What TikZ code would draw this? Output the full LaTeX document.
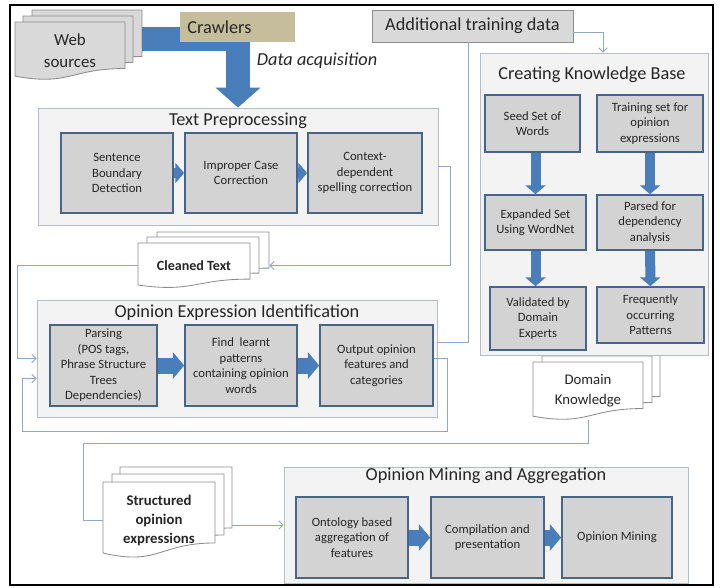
\documentclass[tikz,border=0pt]{standalone}
\usepackage{fontspec}
\setmainfont{Carlito}
\usetikzlibrary{arrows.meta}

\definecolor{arrowblue}{HTML}{4A7EBB}
\definecolor{boxline}{HTML}{46648C}
\definecolor{boxfill}{HTML}{D3D3D3}
\definecolor{panelline}{HTML}{B4BCC8}
\definecolor{panelfill}{HTML}{F3F3F3}
\definecolor{linkc}{HTML}{8EA8CA}
\definecolor{crawlfill}{HTML}{C6BE9A}
\definecolor{pagegray}{HTML}{D9D9D9}
\definecolor{pageline}{HTML}{8C8C8C}

% document sheet with wavy bottom: style, name, x, y, w, h, text
\newcommand\docpage[7]{%
  \filldraw[#1] (#3,#4) -- ({#3+#5},#4) -- ({#3+#5},{#4+0.802*#6})
    .. controls ({#3+0.5*#5},{#4+0.802*#6}) and ({#3+0.5*#5},{#4+1.107*#6}) .. (#3,{#4+0.934*#6}) -- cycle;
  \node[#1,draw=none,fill=none,inner sep=0pt,align=center,
    minimum width=#5*0.025cm,minimum height=#6*0.025cm] (#2) at ({#3+0.5*#5},{#4+0.5*#6}) {#7};}

\begin{document}
\begin{tikzpicture}[x=0.025cm,y=-0.025cm,>=Stealth,
  every node/.style={text=black!85},
  panel/.style={draw=panelline,fill=panelfill,line width=.6pt,inner sep=0pt},
  title/.style={font=\fontsize{13}{15}\selectfont},
  procbox/.style={draw=boxline,line width=1.2pt,fill=boxfill,align=center,inner sep=1pt,
    minimum height=2cm,font=\fontsize{9}{11}\selectfont},
  fat/.style={draw=arrowblue,line width=.4cm,-{Triangle[width=.65cm,length=.28cm]}},
  slim/.style={draw=arrowblue,line width=.25cm,-{Triangle[width=.5cm,length=.22cm]}},
  link/.style={draw=linkc,line width=.6pt,-{Straight Barb[length=3pt,width=6pt]}},
  wire/.style={draw=linkc,line width=.6pt},
  sheet/.style={draw=pageline,fill=white,line width=.6pt},
  websheet/.style={draw=pageline,fill=pagegray,line width=.6pt,font=\fontsize{12}{15.5}\selectfont}]
\useasboundingbox (0,0) rectangle (720,587);
\draw[line width=1.5pt] (10,5) rectangle (713,585);

% web sources
\docpage{websheet}{web-c}{32}{10}{110}{58}{}
\docpage{websheet}{web-b}{23}{16}{110}{58}{}
\docpage{websheet}{web}{15}{22}{110}{58}{Web\\sources}

% text preprocessing
\node[panel,minimum width=10cm,minimum height=2.925cm] (prep) at (238,166.5) {};
\node[title] (prep-t) at (238,121) {Text Preprocessing};
\node[procbox,minimum width=2.8cm] (sbd) at (117,173) {Sentence\\Boundary\\Detection};
\node[procbox,minimum width=2.8cm] (ipc) at (241,173) {Improper Case\\Correction};
\node[procbox,minimum width=2.85cm] (cds) at (365,173) {Context-\\dependent\\spelling correction};
\draw[slim] (sbd) -- (ipc);
\draw[slim] (ipc) -- (cds);

\draw[draw=arrowblue,line width=.6cm,-{Triangle[width=1.1cm,length=.5cm]}] (web-c.east) -| (prep.north);
\node[fill=crawlfill,minimum height=.75cm,text width=2.5cm,inner xsep=.19cm,align=left,title] (crawl) at (237.5,27) {Crawlers};
\node[anchor=west,font=\fontsize{13}{15}\selectfont\itshape] (acq) at (252,61) {Data acquisition};
\node[draw=pageline,fill=pagegray,line width=.6pt,minimum width=5.025cm,minimum height=.8cm,inner sep=0pt,title] (addl) at (472.5,26) {Additional training data};

% knowledge base
\docpage{sheet}{dk-c}{550}{350}{110}{58}{}
\docpage{sheet}{dk-b}{542}{356}{110}{58}{}
\docpage{sheet,font=\fontsize{10.5}{14}\selectfont}{dk}{533}{362}{110}{58}{Domain\\Knowledge}
\node[panel,minimum width=5.7cm,minimum height=7.55cm] (kb) at (594,204) {};
\node[title] (kb-t) at (592,75) {Creating Knowledge Base};
\node[procbox,minimum width=2.375cm,minimum height=1.425cm] (seed) at (532.5,123.5) {Seed Set of\\Words};
\node[procbox,minimum width=2.65cm,minimum height=1.425cm] (train) at (650,123.5) {Training set for\\opinion\\expressions};
\node[procbox,minimum width=2.525cm,minimum height=1.375cm] (exp) at (535.5,222.5) {Expanded Set\\Using WordNet};
\node[procbox,minimum width=2.65cm,minimum height=1.375cm] (parsed) at (650,222.5) {Parsed for\\dependency\\analysis};
\node[procbox,minimum width=2.4cm,minimum height=1.575cm] (valid) at (538,318.5) {Validated by\\Domain\\Experts};
\node[procbox,minimum width=2.675cm,minimum height=1.4cm] (freq) at (650.5,315) {Frequently\\occurring\\Patterns};
\draw[slim] (exp |- seed.south) -- (exp);
\draw[slim] (exp) -- (exp |- valid.north);
\draw[slim] (train) -- (parsed);
\draw[slim] (parsed) -- (freq);

% opinion expression identification
\docpage{sheet}{clean-c}{157}{232}{112}{45}{}
\docpage{sheet}{clean-b}{147}{237}{112}{45}{}
\docpage{sheet,font=\bfseries\fontsize{10}{12}\selectfont}{clean}{138}{243}{112}{45}{Cleaned Text}
\node[panel,minimum width=10cm,minimum height=2.925cm] (opin) at (237,358.5) {};
\node[title] (opin-t) at (237,313) {Opinion Expression Identification};
\node[procbox,minimum width=2.675cm,minimum height=2.025cm] (parse) at (103.5,365.5) {Parsing\\(POS tags,\\Phrase Structure\\Trees\\Dependencies)};
\node[procbox,minimum width=2.8cm,minimum height=2.025cm] (find) at (241,365.5) {Find\ \ learnt\\patterns\\containing opinion\\words};
\node[procbox,minimum width=2.825cm,minimum height=2.025cm] (out) at (376.5,365.5) {Output opinion\\features and\\categories};
\draw[fat] (parse) -- (find);
\draw[fat] (find) -- (out);

% opinion mining
\docpage{sheet}{struct-c}{120}{467}{112}{76}{}
\docpage{sheet}{struct-b}{112}{474}{112}{76}{}
\docpage{sheet,font=\bfseries\fontsize{10.5}{13.5}\selectfont}{struct}{103}{482}{112}{76}{Structured\\opinion\\expressions}
\node[panel,minimum width=10.1cm,minimum height=2.9cm] (mining) at (486,525) {};
\node[title] (mining-t) at (486,476) {Opinion Mining and Aggregation};
\node[procbox,minimum width=2.8cm,minimum height=2.025cm] (onto) at (352,537.5) {Ontology based\\aggregation of\\features};
\node[procbox,minimum width=2.825cm,minimum height=2.025cm] (comp) at (487.5,537.5) {Compilation and\\presentation};
\node[procbox,minimum width=2.75cm,minimum height=2.025cm] (omin) at (617,537.5) {Opinion Mining};
\draw[fat] (onto) -- (comp);
\draw[fat] (comp) -- (omin);

% connectors
\draw[link] ([yshift=-.15cm]addl.east) -| ([xshift=.225cm]kb.north);
\draw[link] (prep.east) -- ++(.3cm,0) |- (clean.east -| clean-c.east);
\draw[link] (clean.west) -- ++(-3cm,0) |- (opin.west);
\draw[link] ([yshift=.175cm]out.east) -- ++(.35cm,0) |- (22,431) |- ([yshift=-.5cm]opin.west);
\draw[wire] ([yshift=.4cm]opin.east) -| ([xshift=-.1cm]addl.south);
\draw[wire] (dk.south) |- (83,443) |- (struct.west);
\draw[link] (mining.west -| struct-c.east) -- (mining.west);
\end{tikzpicture}
\end{document}
